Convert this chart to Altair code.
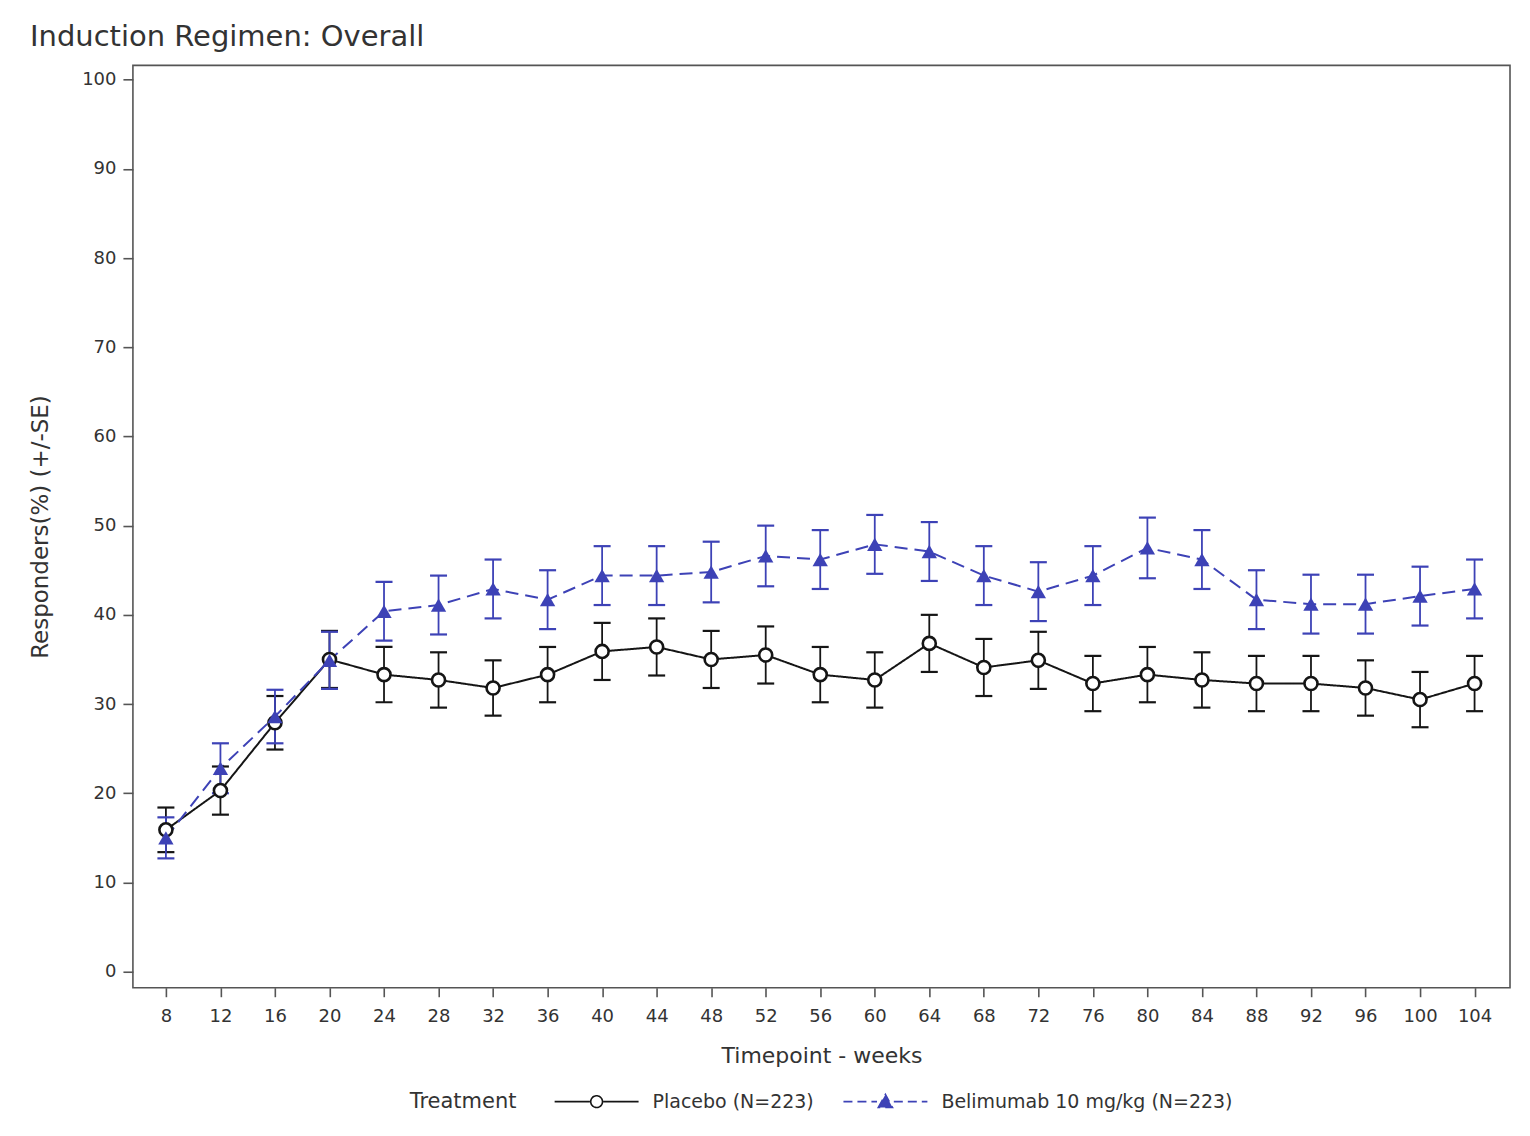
import altair as alt
import pandas as pd

weeks = [8, 12, 16, 20, 24, 28, 32, 36, 40, 44, 48, 52, 56, 60, 64, 68, 72, 76, 80, 84, 88, 92, 96, 100, 104]

placebo_pct = [15.9, 20.3, 27.9, 35.0, 33.3, 32.7, 31.8, 33.3, 35.9, 36.4, 35.0, 35.5, 33.3,
               32.7, 36.8, 34.1, 34.9, 32.3, 33.3, 32.7, 32.3, 32.3, 31.8, 30.5, 32.3]
placebo_se = [2.5, 2.7, 3.0, 3.2, 3.1, 3.1, 3.1, 3.1, 3.2, 3.2, 3.2, 3.2, 3.1,
              3.1, 3.2, 3.2, 3.2, 3.1, 3.1, 3.1, 3.1, 3.1, 3.1, 3.1, 3.1]

belim_pct = [15.0, 22.8, 28.6, 34.9, 40.4, 41.1, 42.9, 41.7, 44.4, 44.4, 44.8, 46.6, 46.2,
             47.9, 47.1, 44.4, 42.6, 44.4, 47.5, 46.2, 41.7, 41.2, 41.2, 42.1, 42.9]
belim_se = [2.3, 2.8, 3.0, 3.2, 3.3, 3.3, 3.3, 3.3, 3.3, 3.3, 3.4, 3.4, 3.3,
            3.3, 3.3, 3.3, 3.3, 3.3, 3.4, 3.3, 3.3, 3.3, 3.3, 3.3, 3.3]

groups = ["Placebo (N=223)", "Belimumab 10 mg/kg (N=223)"]
colors = ["#151515", "#3d42b6"]

x_ticks = list(range(8, 105, 4))
y_ticks = list(range(0, 101, 10))

rows = []
for g, pcts, ses in [(groups[0], placebo_pct, placebo_se), (groups[1], belim_pct, belim_se)]:
    for w, p, s in zip(weeks, pcts, ses):
        rows.append({"week": w, "pct": p, "lo": p - s, "hi": p + s, "Treatment": g})
df = pd.DataFrame(rows)

FONT = "DejaVu Sans"
TXT = "#333333"

xs = alt.Scale(domain=[5.58, 106.6], nice=False, zero=False)
ys = alt.Scale(domain=[-1.8, 101.6], nice=False, zero=False)

x_enc = alt.X("week:Q", scale=xs, title="Timepoint - weeks",
              axis=alt.Axis(values=x_ticks, grid=False, domain=False, tickSize=9, tickWidth=1.6,
                            tickColor="#555", labelFont=FONT, labelFontSize=18, labelColor=TXT,
                            labelPadding=11, titleFont=FONT, titleFontSize=22, titleFontWeight="normal",
                            titleColor=TXT, titlePadding=20, labelFlush=False))
y_enc = alt.Y("pct:Q", scale=ys, title="Responders(%) (+/-SE)",
              axis=alt.Axis(values=y_ticks, grid=False, domain=False, tickSize=10, tickWidth=1.6,
                            tickColor="#555", labelFont=FONT, labelFontSize=18, labelColor=TXT,
                            labelPadding=7, titleFont=FONT, titleFontSize=23, titleFontWeight="normal",
                            titleColor=TXT, titlePadding=29, labelFlush=False))

P_PATH = "M-1,0H-0.16M0.16,0H1M-0.14,0A0.14,0.14 0 1,0 0.14,0A0.14,0.14 0 1,0 -0.14,0Z"
B_PATH = "M-1,0H-0.2M0.2,0H1M-0.17,0.14L0,-0.17L0.17,0.14Z"


def make_legend():
    return alt.Legend(
        orient="none", legendX=277, legendY=994, direction="horizontal",
        title="Treatment", titleOrient="left", titleAnchor="middle",
        titleBaseline="line-top", titleLineHeight=32,
        titleFont=FONT, titleFontSize=21, titleFontWeight="normal", titleColor=TXT, titlePadding=37,
        labelFont=FONT, labelFontSize=19, labelColor=TXT, labelOffset=13, labelLimit=500,
        symbolSize=7056, columnPadding=25, symbolStrokeWidth=1.6, symbolOpacity=1,
    )


base = alt.Chart(df)
layers = []
for i, g in enumerate(groups):
    sub = base.transform_filter(alt.datum.Treatment == g)
    dash = [1, 0] if i == 0 else [13, 7]
    layers.append(sub.mark_line(strokeWidth=2, color=colors[i], strokeDash=dash).encode(
        x=x_enc if i == 0 else alt.X("week:Q"), y=y_enc if i == 0 else alt.Y("pct:Q"), order="week:Q"))
for i, g in enumerate(groups):
    sub = base.transform_filter(alt.datum.Treatment == g)
    layers.append(sub.mark_rule(strokeWidth=1.8, color=colors[i]).encode(
        x="week:Q", y="lo:Q", y2="hi:Q"))
    layers.append(sub.mark_tick(orient="horizontal", size=17, thickness=2.2, color=colors[i], opacity=1).encode(
        x="week:Q", y="lo:Q"))
    layers.append(sub.mark_tick(orient="horizontal", size=17, thickness=2.2, color=colors[i], opacity=1).encode(
        x="week:Q", y="hi:Q"))

layers.append(base.transform_filter(alt.datum.Treatment == groups[0]).mark_point(
    shape="circle", filled=True, fill="white", stroke=colors[0], strokeWidth=2.6, size=170, opacity=1
).encode(x="week:Q", y="pct:Q"))
layers.append(base.transform_filter(alt.datum.Treatment == groups[1]).mark_point(
    shape="triangle-up", filled=True, color=colors[1], size=235, opacity=1
).encode(x="week:Q", y="pct:Q"))

# legend-only layer: its points sit far below the plotted range and are clipped away
layers.append(base.transform_calculate(hidden="-500").mark_point(filled=True, opacity=1, clip=True).encode(
    x="week:Q", y="hidden:Q",
    fill=alt.Fill("Treatment:N", scale=alt.Scale(domain=groups, range=["white", colors[1]]), legend=make_legend()),
    stroke=alt.Stroke("Treatment:N", scale=alt.Scale(domain=groups, range=colors), legend=make_legend()),
    shape=alt.Shape("Treatment:N", scale=alt.Scale(domain=groups, range=[P_PATH, B_PATH]), legend=make_legend()),
    strokeDash=alt.StrokeDash("Treatment:N", scale=alt.Scale(domain=groups, range=[[1, 0], [9, 5]]), legend=make_legend()),
))

chart = alt.layer(*layers).properties(
    width=1378, height=923,
    autosize=alt.AutoSizeParams(type="none"),
    padding={"left": 125, "top": 57, "right": 12, "bottom": 145},
    title=alt.TitleParams("Induction Regimen: Overall", anchor="start", frame="group", dx=-103,
                          offset=13, font=FONT, fontSize=29, fontWeight="normal", color=TXT),
    background="white",
).configure_view(stroke="#555555", strokeWidth=1.6)

chart.save("out.html", embed_options={"renderer": "svg", "actions": False})
